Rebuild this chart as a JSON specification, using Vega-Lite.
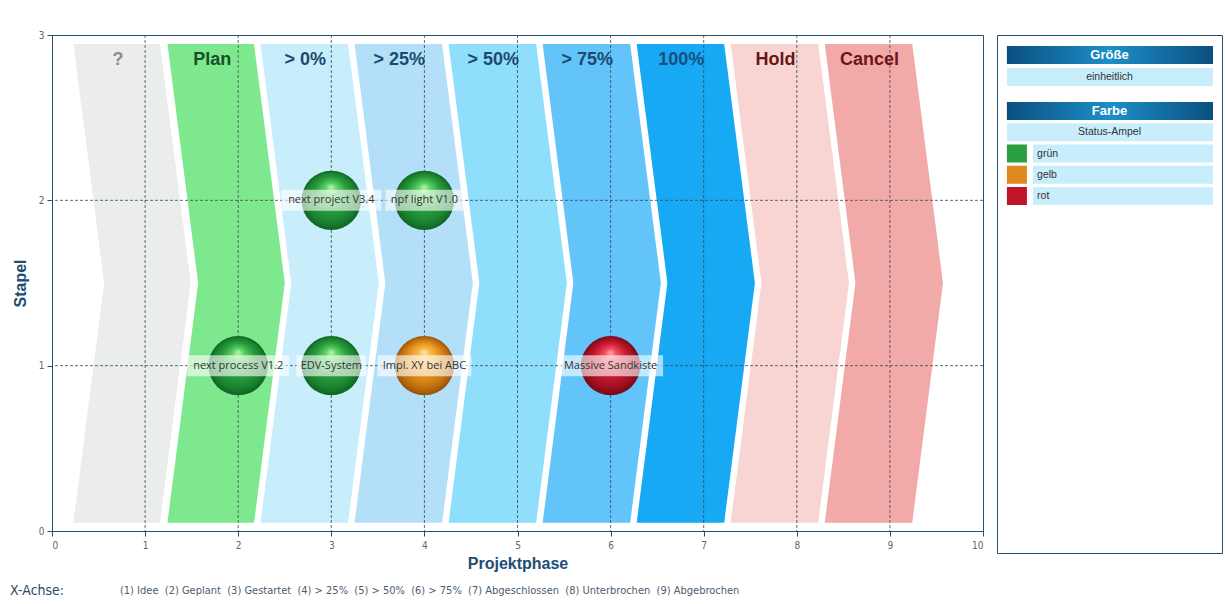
{
  "$schema": "https://vega.github.io/schema/vega-lite/v6.json",
  "background": "white",
  "padding": {"left": 9, "top": 29, "right": 3, "bottom": 5},
  "bounds": "flush",
  "spacing": 14,
  "resolve": {"scale": {"color": "independent", "fill": "independent"}},
  "config": {
    "view": {"stroke": "#27506a", "strokeWidth": 1},
    "axis": {
      "domainColor": "#27506a",
      "tickColor": "#27506a",
      "tickSize": 5,
      "labelColor": "#666666",
      "labelFont": "DejaVu Sans Condensed, Liberation Sans",
      "labelFontSize": 10,
      "titleFont": "Liberation Sans",
      "titleFontSize": 16,
      "titleFontWeight": "bold",
      "titleColor": "#1d4d74",
      "grid": false
    }
  },
  "datasets": {
    "chevrons": [
      {"phase": "?", "y": 0.05, "x": 0.23, "x_end": 1.16},
      {"phase": "?", "y": 1.5, "x": 0.56, "x_end": 1.49},
      {"phase": "?", "y": 2.945, "x": 0.23, "x_end": 1.16},
      {"phase": "Plan", "y": 0.05, "x": 1.24, "x_end": 2.17},
      {"phase": "Plan", "y": 1.5, "x": 1.57, "x_end": 2.5},
      {"phase": "Plan", "y": 2.945, "x": 1.24, "x_end": 2.17},
      {"phase": "> 0%", "y": 0.05, "x": 2.24, "x_end": 3.18},
      {"phase": "> 0%", "y": 1.5, "x": 2.57, "x_end": 3.51},
      {"phase": "> 0%", "y": 2.945, "x": 2.24, "x_end": 3.18},
      {"phase": "> 25%", "y": 0.05, "x": 3.25, "x_end": 4.19},
      {"phase": "> 25%", "y": 1.5, "x": 3.58, "x_end": 4.52},
      {"phase": "> 25%", "y": 2.945, "x": 3.25, "x_end": 4.19},
      {"phase": "> 50%", "y": 0.05, "x": 4.26, "x_end": 5.2},
      {"phase": "> 50%", "y": 1.5, "x": 4.59, "x_end": 5.53},
      {"phase": "> 50%", "y": 2.945, "x": 4.26, "x_end": 5.2},
      {"phase": "> 75%", "y": 0.05, "x": 5.27, "x_end": 6.21},
      {"phase": "> 75%", "y": 1.5, "x": 5.6, "x_end": 6.54},
      {"phase": "> 75%", "y": 2.945, "x": 5.27, "x_end": 6.21},
      {"phase": "100%", "y": 0.05, "x": 6.28, "x_end": 7.22},
      {"phase": "100%", "y": 1.5, "x": 6.61, "x_end": 7.55},
      {"phase": "100%", "y": 2.945, "x": 6.28, "x_end": 7.22},
      {"phase": "Hold", "y": 0.05, "x": 7.29, "x_end": 8.23},
      {"phase": "Hold", "y": 1.5, "x": 7.62, "x_end": 8.56},
      {"phase": "Hold", "y": 2.945, "x": 7.29, "x_end": 8.23},
      {"phase": "Cancel", "y": 0.05, "x": 8.3, "x_end": 9.24},
      {"phase": "Cancel", "y": 1.5, "x": 8.63, "x_end": 9.57},
      {"phase": "Cancel", "y": 2.945, "x": 8.3, "x_end": 9.24}
    ],
    "phases": [
      {"phase": "?", "x": 0.71},
      {"phase": "Plan", "x": 1.72},
      {"phase": "> 0%", "x": 2.72},
      {"phase": "> 25%", "x": 3.73},
      {"phase": "> 50%", "x": 4.74},
      {"phase": "> 75%", "x": 5.75},
      {"phase": "100%", "x": 6.76},
      {"phase": "Hold", "x": 7.77},
      {"phase": "Cancel", "x": 8.78}
    ],
    "projects": [
      {"label": "next process V1.2", "x": 2, "y": 1, "status": "grün"},
      {"label": "EDV-System", "x": 3, "y": 1, "status": "grün"},
      {"label": "Impl. XY bei ABC", "x": 4, "y": 1, "status": "gelb"},
      {"label": "Massive Sandkiste", "x": 6, "y": 1, "status": "rot"},
      {"label": "next project V3.4", "x": 3, "y": 2, "status": "grün"},
      {"label": "npf light V1.0", "x": 4, "y": 2, "status": "grün"}
    ]
  },
  "hconcat": [
    {
      "width": 931,
      "height": 496,
      "layer": [
        {
          "data": {"name": "chevrons"},
          "mark": {"type": "area", "orient": "horizontal", "opacity": 1},
          "encoding": {
            "y": {
              "field": "y", "type": "quantitative",
              "scale": {"domain": [0, 3], "nice": false},
              "axis": {"values": [0, 1, 2, 3], "format": "d", "title": "Stapel", "titlePadding": 10, "labelPadding": 3}
            },
            "x": {
              "field": "x", "type": "quantitative", "stack": null,
              "scale": {"domain": [0, 10], "nice": false},
              "axis": {"values": [0, 1, 2, 3, 4, 5, 6, 7, 8, 9, 10], "format": "d", "title": "Projektphase", "labelPadding": 4, "titlePadding": 5}
            },
            "x2": {"field": "x_end"},
            "color": {
              "field": "phase", "type": "nominal", "legend": null,
              "scale": {
                "domain": ["?", "Plan", "> 0%", "> 25%", "> 50%", "> 75%", "100%", "Hold", "Cancel"],
                "range": ["#ebecec", "#7ee88f", "#c8eefc", "#b3e0f8", "#8fdefc", "#62c4f9", "#18a9f5", "#f8d4d2", "#f2aaa8"]
              }
            }
          }
        },
        {
          "data": {"values": [{"x": 1}, {"x": 2}, {"x": 3}, {"x": 4}, {"x": 5}, {"x": 6}, {"x": 7}, {"x": 8}, {"x": 9}]},
          "mark": {"type": "rule", "color": "#3a4550", "strokeDash": [3, 2], "strokeWidth": 0.8},
          "encoding": {"x": {"field": "x", "type": "quantitative"}}
        },
        {
          "data": {"values": [{"y": 1}, {"y": 2}]},
          "mark": {"type": "rule", "color": "#3a4550", "strokeDash": [3, 2], "strokeWidth": 0.8},
          "encoding": {"y": {"field": "y", "type": "quantitative"}}
        },
        {
          "data": {"name": "projects"},
          "transform": [{"filter": "datum.status === 'grün'"}],
          "mark": {
            "type": "point", "shape": "circle", "filled": true, "size": 3530, "opacity": 1, "strokeWidth": 0,
            "fill": {
              "gradient": "radial", "x1": 0.5, "y1": 0.27, "r1": 0, "x2": 0.5, "y2": 0.5, "r2": 0.5,
              "stops": [
                {"offset": 0, "color": "#b4f7aa"},
                {"offset": 0.2, "color": "#5fd266"},
                {"offset": 0.55, "color": "#2a9f3e"},
                {"offset": 0.85, "color": "#18802e"},
                {"offset": 1, "color": "#0f6222"}
              ]
            }
          },
          "encoding": {"x": {"field": "x", "type": "quantitative"}, "y": {"field": "y", "type": "quantitative"}}
        },
        {
          "data": {"name": "projects"},
          "transform": [{"filter": "datum.status === 'gelb'"}],
          "mark": {
            "type": "point", "shape": "circle", "filled": true, "size": 3530, "opacity": 1, "strokeWidth": 0,
            "fill": {
              "gradient": "radial", "x1": 0.5, "y1": 0.27, "r1": 0, "x2": 0.5, "y2": 0.5, "r2": 0.5,
              "stops": [
                {"offset": 0, "color": "#ffe4a8"},
                {"offset": 0.2, "color": "#f9bb50"},
                {"offset": 0.55, "color": "#e6921e"},
                {"offset": 0.85, "color": "#bc6c0e"},
                {"offset": 1, "color": "#965208"}
              ]
            }
          },
          "encoding": {"x": {"field": "x", "type": "quantitative"}, "y": {"field": "y", "type": "quantitative"}}
        },
        {
          "data": {"name": "projects"},
          "transform": [{"filter": "datum.status === 'rot'"}],
          "mark": {
            "type": "point", "shape": "circle", "filled": true, "size": 3530, "opacity": 1, "strokeWidth": 0,
            "fill": {
              "gradient": "radial", "x1": 0.5, "y1": 0.27, "r1": 0, "x2": 0.5, "y2": 0.5, "r2": 0.5,
              "stops": [
                {"offset": 0, "color": "#ffa2ac"},
                {"offset": 0.2, "color": "#ef5060"},
                {"offset": 0.55, "color": "#cc1a32"},
                {"offset": 0.85, "color": "#9a0e20"},
                {"offset": 1, "color": "#760816"}
              ]
            }
          },
          "encoding": {"x": {"field": "x", "type": "quantitative"}, "y": {"field": "y", "type": "quantitative"}}
        },
        {
          "data": {"name": "projects"},
          "mark": {"type": "point", "filled": true, "size": 10000, "fill": "white", "opacity": 0.62, "strokeWidth": 0},
          "encoding": {
            "x": {"field": "x", "type": "quantitative"},
            "y": {"field": "y", "type": "quantitative"},
            "shape": {
              "field": "label", "type": "nominal", "legend": null,
              "scale": {
                "domain": ["next process V1.2", "EDV-System", "Impl. XY bei ABC", "Massive Sandkiste", "next project V3.4", "npf light V1.0"],
                "range": [
                  "M-1.02,-0.21H1.02V0.21H-1.02Z",
                  "M-0.7,-0.21H0.7V0.21H-0.7Z",
                  "M-0.94,-0.21H0.94V0.21H-0.94Z",
                  "M-1.05,-0.21H1.05V0.21H-1.05Z",
                  "M-1,-0.21H1V0.21H-1Z",
                  "M-0.78,-0.21H0.78V0.21H-0.78Z"
                ]
              }
            }
          }
        },
        {
          "data": {"name": "projects"},
          "mark": {"type": "text", "font": "Open Sans", "fontSize": 11, "color": "#333333", "align": "center", "baseline": "middle"},
          "encoding": {
            "x": {"field": "x", "type": "quantitative"},
            "y": {"field": "y", "type": "quantitative"},
            "text": {"field": "label"}
          }
        },
        {
          "data": {"name": "phases"},
          "mark": {"type": "text", "font": "Liberation Sans", "fontSize": 18, "fontWeight": "bold", "align": "center", "baseline": "middle"},
          "encoding": {
            "x": {"field": "x", "type": "quantitative"},
            "y": {"datum": 2.85, "type": "quantitative"},
            "text": {"field": "phase"},
            "fill": {
              "field": "phase", "type": "nominal", "legend": null,
              "scale": {
                "domain": ["?", "Plan", "> 0%", "> 25%", "> 50%", "> 75%", "100%", "Hold", "Cancel"],
                "range": ["#8c8c8c", "#16502a", "#1a4a6e", "#1a4a6e", "#1a4a6e", "#1a4a6e", "#17507f", "#6b1518", "#6b1518"]
              }
            }
          }
        },
        {
          "data": {"values": [{"caption": "X-Achse:"}]},
          "mark": {"type": "text", "align": "left", "baseline": "middle", "font": "DejaVu Sans Condensed, Liberation Sans", "fontSize": 14, "color": "#2c4a6a"},
          "encoding": {
            "x": {"datum": -0.45, "type": "quantitative"},
            "y": {"datum": -0.36, "type": "quantitative"},
            "text": {"field": "caption"}
          }
        },
        {
          "data": {"values": [{"caption": "(1) Idee\u00a0\u00a0(2) Geplant\u00a0\u00a0(3) Gestartet\u00a0\u00a0(4) > 25%\u00a0\u00a0(5) > 50%\u00a0\u00a0(6) > 75%\u00a0\u00a0(7) Abgeschlossen\u00a0\u00a0(8) Unterbrochen\u00a0\u00a0(9) Abgebrochen"}]},
          "mark": {"type": "text", "align": "left", "baseline": "middle", "font": "DejaVu Sans Condensed, Liberation Sans", "fontSize": 11, "color": "#4d5d70"},
          "encoding": {
            "x": {"datum": 0.73, "type": "quantitative"},
            "y": {"datum": -0.36, "type": "quantitative"},
            "text": {"field": "caption"}
          }
        }
      ]
    },
    {
      "width": 225,
      "height": 518,
      "layer": [
        {
          "data": {"values": [{"row": "Größe", "kind": "head"}, {"row": "einheitlich", "kind": "sub"}]},
          "encoding": {
            "y": {
              "field": "row", "type": "nominal", "axis": null, "sort": null,
              "scale": {"domain": ["Größe", "einheitlich"], "range": [11, 51], "paddingInner": 0.18, "paddingOuter": 0}
            }
          },
          "layer": [
            {
              "transform": [{"filter": "datum.kind === 'head'"}],
              "mark": {
                "type": "bar",
                "fill": {
                  "gradient": "linear", "x1": 0, "y1": 0, "x2": 1, "y2": 0,
                  "stops": [
                    {"offset": 0, "color": "#0a4f80"},
                    {"offset": 0.5, "color": "#1d8fc8"},
                    {"offset": 1, "color": "#0a4f80"}
                  ]
                }
              },
              "encoding": {
                "x": {"datum": 0.044, "type": "quantitative", "scale": {"domain": [0, 1], "nice": false}, "axis": null},
                "x2": {"datum": 0.96}
              }
            },
            {
              "transform": [{"filter": "datum.kind === 'sub'"}],
              "mark": {"type": "bar", "fill": "#c8eefc"},
              "encoding": {
                "x": {"datum": 0.044, "type": "quantitative"},
                "x2": {"datum": 0.96}
              }
            },
            {
              "transform": [{"filter": "datum.kind === 'head'"}],
              "mark": {"type": "text", "font": "Liberation Sans", "fontSize": 13, "fontWeight": "bold", "color": "white", "align": "center", "baseline": "middle"},
              "encoding": {"x": {"datum": 0.5, "type": "quantitative"}, "text": {"field": "row"}}
            },
            {
              "transform": [{"filter": "datum.kind === 'sub'"}],
              "mark": {"type": "text", "font": "Liberation Sans", "fontSize": 10.5, "color": "#333333", "align": "center", "baseline": "middle"},
              "encoding": {"x": {"datum": 0.5, "type": "quantitative"}, "text": {"field": "row"}}
            }
          ]
        },
        {
          "data": {"values": [
            {"row": "Farbe", "kind": "head"},
            {"row": "Status-Ampel", "kind": "sub"},
            {"row": "grün", "kind": "item"},
            {"row": "gelb", "kind": "item"},
            {"row": "rot", "kind": "item"}
          ]},
          "encoding": {
            "y": {
              "field": "row", "type": "nominal", "axis": null, "sort": null,
              "scale": {"domain": ["Farbe", "Status-Ampel", "grün", "gelb", "rot"], "range": [67, 170], "paddingInner": 0.15, "paddingOuter": 0}
            }
          },
          "layer": [
            {
              "transform": [{"filter": "datum.kind === 'head'"}],
              "mark": {
                "type": "bar",
                "fill": {
                  "gradient": "linear", "x1": 0, "y1": 0, "x2": 1, "y2": 0,
                  "stops": [
                    {"offset": 0, "color": "#0a4f80"},
                    {"offset": 0.5, "color": "#1d8fc8"},
                    {"offset": 1, "color": "#0a4f80"}
                  ]
                }
              },
              "encoding": {
                "x": {"datum": 0.044, "type": "quantitative"},
                "x2": {"datum": 0.96}
              }
            },
            {
              "transform": [{"filter": "datum.kind === 'sub'"}],
              "mark": {"type": "bar", "fill": "#c8eefc"},
              "encoding": {
                "x": {"datum": 0.044, "type": "quantitative"},
                "x2": {"datum": 0.96}
              }
            },
            {
              "transform": [{"filter": "datum.kind === 'item'"}],
              "mark": {"type": "bar", "fill": "#c8eefc"},
              "encoding": {
                "x": {"datum": 0.16, "type": "quantitative"},
                "x2": {"datum": 0.96}
              }
            },
            {
              "transform": [{"filter": "datum.kind === 'item'"}],
              "mark": {"type": "bar"},
              "encoding": {
                "x": {"datum": 0.044, "type": "quantitative"},
                "x2": {"datum": 0.133},
                "color": {
                  "field": "row", "type": "nominal", "legend": null,
                  "scale": {"domain": ["grün", "gelb", "rot"], "range": ["#2aa042", "#e0891f", "#c01428"]}
                }
              }
            },
            {
              "transform": [{"filter": "datum.kind === 'head'"}],
              "mark": {"type": "text", "font": "Liberation Sans", "fontSize": 13, "fontWeight": "bold", "color": "white", "align": "center", "baseline": "middle"},
              "encoding": {"x": {"datum": 0.5, "type": "quantitative"}, "text": {"field": "row"}}
            },
            {
              "transform": [{"filter": "datum.kind === 'sub'"}],
              "mark": {"type": "text", "font": "Liberation Sans", "fontSize": 10.5, "color": "#333333", "align": "center", "baseline": "middle"},
              "encoding": {"x": {"datum": 0.5, "type": "quantitative"}, "text": {"field": "row"}}
            },
            {
              "transform": [{"filter": "datum.kind === 'item'"}],
              "mark": {"type": "text", "font": "Liberation Sans", "fontSize": 10.5, "color": "#333333", "align": "left", "baseline": "middle"},
              "encoding": {"x": {"datum": 0.178, "type": "quantitative"}, "text": {"field": "row"}}
            }
          ]
        }
      ],
      "resolve": {"scale": {"y": "independent"}}
    }
  ]
}
